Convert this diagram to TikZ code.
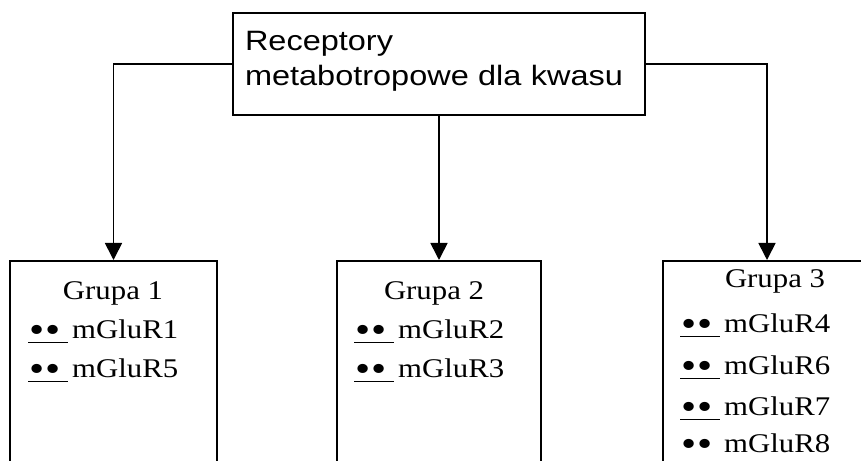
\documentclass[tikz,border=0pt]{standalone}
\usepackage{fontspec}
\setmainfont{Liberation Serif}[FakeStretch=1.14]
\newfontfamily\arialfont{Liberation Sans}[FakeStretch=1.16]
\usetikzlibrary{arrows.meta,positioning}

% bullets, with and without underline
\newcommand{\bb}{\raisebox{-4pt}{\fontsize{38}{38}\selectfont\textbullet}}
\newcommand{\bn}{\makebox[44pt][l]{\hspace{1pt}\bb\hspace{1pt}\bb}}
\newcommand{\bu}{\rlap{\rule[-4pt]{40pt}{1pt}}\bn}

\begin{document}
\begin{tikzpicture}[
    x=1pt, y=1pt,
    topbox/.style={draw, line width=1.8pt, minimum width=412pt, minimum height=102pt, text width=388pt, align=left, font=\arialfont\fontsize{28}{35}\selectfont},
    grp/.style={draw, line width=1.8pt, minimum height=320pt, anchor=north},
    head/.style={anchor=base, inner sep=0pt, font=\fontsize{27}{32}\selectfont},
    item/.style={anchor=base west, inner sep=0pt, font=\fontsize{27}{32}\selectfont},
    conn/.style={-{Triangle[length=17pt, width=17pt]}, line width=1.7pt}
]
\useasboundingbox (0,0) rectangle (861,460);
\clip (0,0) rectangle (861,460);

\node[topbox] (top) at (439,396) {Receptory\\metabotropowe dla kwasu\rule[-11pt]{0pt}{0pt}};

\node[grp, minimum width=207pt] (g1) at (113.5,200) {};
\node[grp, minimum width=204pt] (g2) at (439,200) {};
\node[grp, minimum width=208pt] (g3) at (767,200) {};

\node[head] (h1) at (113,160) {Grupa 1};
\node[head] (h2) at (434,160) {Grupa 2};
\node[head] (h3) at (775,172) {Grupa 3};

\node[item] (r1) at (28,121) {\bu mGluR1};
\node[item] (r5) at (28,82) {\bu mGluR5};
\node[item] (r2) at (354,121) {\bu mGluR2};
\node[item] (r3) at (354,82) {\bu mGluR3};
\node[item] (r4) at (680,127) {\bu mGluR4};
\node[item] (r6) at (680,85) {\bu mGluR6};
\node[item] (r7) at (680,44) {\bu mGluR7};
\node[item] (r8) at (680,8) {\bn mGluR8};

\draw[conn] (top.west) -| (g1.north);
\draw[conn] (top.south) -- (g2.north);
\draw[conn] (top.east) -| (g3.north);
\end{tikzpicture}
\end{document}
